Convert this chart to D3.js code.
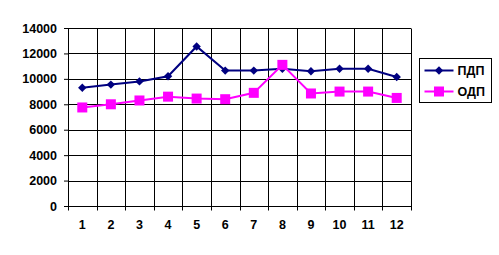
<!DOCTYPE html>
<html>
<head>
<meta charset="utf-8">
<script src="https://cdn.jsdelivr.net/npm/d3@7"></script>
<style>
  body { margin: 0; background: #fff; }
  text { font-family: "Liberation Sans", Arial, sans-serif; font-weight: bold; }
</style>
</head>
<body>
<div id="chart-area"></div>
<script>
const months = ["1", "2", "3", "4", "5", "6", "7", "8", "9", "10", "11", "12"];
const pdp = [9300, 9550, 9800, 10200, 12550, 10650, 10650, 10800, 10600, 10800, 10800, 10150];
const odp = [7750, 8000, 8300, 8600, 8450, 8400, 8900, 11100, 8850, 9000, 9000, 8500];
const yTicks = [0, 2000, 4000, 6000, 8000, 10000, 12000, 14000];

const margin = { left: 68, top: 28, right: 88, bottom: 49 };
const width = 499 - margin.left - margin.right,
  height = 255 - margin.top - margin.bottom;

const svg = d3.select("#chart-area")
  .append("svg")
  .attr("width", 499)
  .attr("height", 255);

const g = svg.append("g")
  .attr("transform", "translate(" + margin.left + ", " + margin.top + ")");

const x = d3.scaleBand()
  .domain(months)
  .range([0, width]);

const y = d3.scaleLinear()
  .domain([0, 14000])
  .range([height, 0]);

// grid
g.append("g")
  .selectAll("line.h")
  .data(yTicks)
  .enter()
  .append("line")
  .attr("x1", 0)
  .attr("x2", width)
  .attr("y1", (d) => Math.round(y(d)) + 0.5)
  .attr("y2", (d) => Math.round(y(d)) + 0.5)
  .attr("stroke", "#000");

const bounds = months.map((m) => x(m)).concat([width]);
g.append("g")
  .selectAll("line.v")
  .data(bounds)
  .enter()
  .append("line")
  .attr("x1", (d) => Math.round(d) + 0.5)
  .attr("x2", (d) => Math.round(d) + 0.5)
  .attr("y1", Math.round(y(14000)) + 0.5)
  .attr("y2", Math.round(y(0)) + 4.5)
  .attr("stroke", "#000");

// y axis labels
const yAxisCall = d3.axisLeft(y)
  .tickValues(yTicks)
  .tickFormat(d3.format("d"))
  .tickSize(4)
  .tickPadding(7);
const yAxis = g.append("g").call(yAxisCall);
yAxis.select(".domain").remove();
yAxis.selectAll("line").attr("stroke", "#000");
yAxis.selectAll("text")
  .attr("font-size", "12.5px")
  .attr("font-family", "Liberation Sans, Arial, sans-serif")
  .attr("font-weight", "bold")
  .attr("fill", "#000");

// x axis labels
const xAxisCall = d3.axisBottom(x).tickSize(0).tickPadding(14);
const xAxis = g.append("g")
  .attr("transform", "translate(0, " + height + ")")
  .call(xAxisCall);
xAxis.select(".domain").remove();
xAxis.selectAll("text")
  .attr("font-size", "12.5px")
  .attr("font-family", "Liberation Sans, Arial, sans-serif")
  .attr("font-weight", "bold")
  .attr("fill", "#000");

const cx = (i) => x(months[i]) + x.bandwidth() / 2;
const line = d3.line()
  .x((d, i) => cx(i))
  .y((d) => y(d));

const diamond = d3.symbol().type(d3.symbolDiamond2).size(45);

function drawSeries(data, color, marker) {
  g.append("path")
    .datum(data)
    .attr("d", line)
    .attr("fill", "none")
    .attr("stroke", color)
    .attr("stroke-width", 2);
  const pts = g.append("g").selectAll("g")
    .data(data)
    .enter()
    .append("g")
    .attr("transform", (d, i) => "translate(" + cx(i) + "," + y(d) + ")");
  if (marker === "diamond") {
    pts.append("path").attr("d", diamond).attr("fill", color);
  } else {
    pts.append("rect")
      .attr("x", -5).attr("y", -5)
      .attr("width", 10).attr("height", 10)
      .attr("fill", color);
  }
}

drawSeries(pdp, "#000080", "diamond");
drawSeries(odp, "#FF00FF", "square");

// legend
const legend = svg.append("g").attr("transform", "translate(419.5, 58.5)");
legend.append("rect")
  .attr("width", 72)
  .attr("height", 44)
  .attr("fill", "#fff")
  .attr("stroke", "#000");

const legendItems = [
  { name: "ПДП", color: "#000080", marker: "diamond" },
  { name: "ОДП", color: "#FF00FF", marker: "square" },
];
legendItems.forEach((d, i) => {
  const row = legend.append("g").attr("transform", "translate(0," + (12 + i * 21) + ")");
  row.append("line")
    .attr("x1", 5).attr("x2", 34)
    .attr("stroke", d.color)
    .attr("stroke-width", 2);
  if (d.marker === "diamond") {
    row.append("path").attr("d", diamond).attr("transform", "translate(19.5,0)").attr("fill", d.color);
  } else {
    row.append("rect").attr("x", 14.5).attr("y", -5).attr("width", 10).attr("height", 10).attr("fill", d.color);
  }
  row.append("text")
    .attr("x", 38)
    .attr("y", 4.5)
    .attr("font-size", "12.5px")
    .text(d.name);
});
</script>
</body>
</html>
